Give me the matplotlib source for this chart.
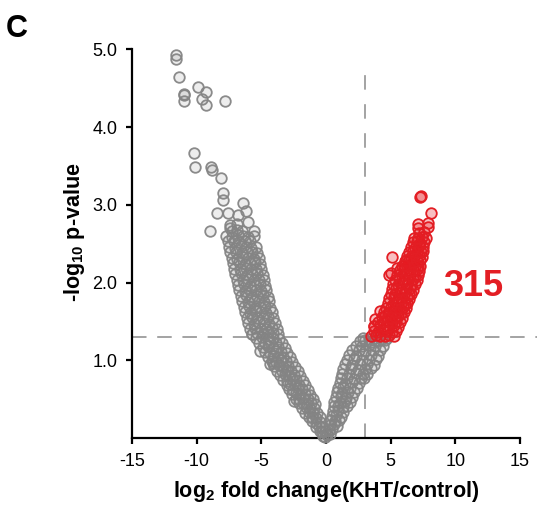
import matplotlib
matplotlib.use("Agg")
import matplotlib.pyplot as plt

plt.rcParams['font.family'] = ['Liberation Sans', 'DejaVu Sans']
plt.rcParams['mathtext.fontset'] = 'custom'
plt.rcParams['mathtext.rm'] = 'Liberation Sans:bold'
plt.rcParams['mathtext.it'] = 'Liberation Sans:bold'
plt.rcParams['mathtext.bf'] = 'Liberation Sans:bold'
plt.rcParams['mathtext.default'] = 'rm'

# ---------------- data ----------------
# left arm, not significant (gray)
left_x = [
    -0.25, -0.05, 0.1,
    -0.5, -0.3, -0.1,
    -0.8, -0.55, -0.3,
    -1.05, -0.8, -0.5,
    -1.35, -1.05, -0.75, -0.5,
    -1.6, -1.3, -1.0, -0.7,
    -1.85, -1.55, -1.25, -0.9,
    -2.1, -1.8, -1.5, -1.15, -0.85,
    -2.35, -2.05, -1.75, -1.4, -1.0,
    -2.6, -2.3, -2.0, -1.65, -1.2,
    -2.85, -2.55, -2.2, -1.85, -1.4,
    -3.05, -2.75, -2.4, -2.05, -1.6,
    -3.3, -3.0, -2.65, -2.3, -1.8,
    -3.55, -3.2, -2.85, -2.5, -2.0,
    -3.75, -3.4, -3.05, -2.7, -2.2,
    -4.0, -3.65, -3.3, -2.9, -2.4,
    -4.2, -3.85, -3.5, -3.1, -2.6,
    -4.45, -4.1, -3.7, -3.3, -2.8,
    -4.7, -4.3, -3.9, -3.5, -3.0,
    -4.9, -4.5, -4.1, -3.7, -3.2,
    -5.15, -4.7, -4.3, -3.9, -3.4,
    -5.4, -4.95, -4.5, -4.1, -3.6,
    -5.7, -5.3, -4.9, -4.5, -4.1, -3.7,
    -5.9, -5.5, -5.05, -4.6, -4.2, -3.8,
    -6.0, -5.6, -5.2, -4.8, -4.4, -3.95,
    -6.1, -5.7, -5.3, -4.9, -4.5, -4.1,
    -6.3, -5.9, -5.45, -5.0, -4.6, -4.2,
    -6.35, -5.95, -5.5, -5.1, -4.7, -4.3,
    -6.5, -6.05, -5.6, -5.2, -4.8, -4.4,
    -6.6, -6.15, -5.7, -5.3, -4.9, -4.5,
    -6.7, -6.25, -5.8, -5.4, -5.0, -4.6,
    -6.8, -6.35, -5.9, -5.5, -5.1, -4.7,
    -6.9, -6.45, -6.0, -5.6, -5.2, -4.8,
    -7.0, -6.55, -6.1, -5.7, -5.3, -4.9,
    -7.1, -6.65, -6.2, -5.8, -5.4, -5.0,
    -7.2, -6.75, -6.3, -5.9, -5.5, -5.1,
    -7.3, -6.85, -6.4, -6.0, -5.6, -5.2,
    -7.4, -6.95, -6.5, -6.1, -5.7, -5.3,
    -7.5, -7.05, -6.6, -6.2, -5.8, -5.4,
    -7.6, -7.15, -6.7, -6.3, -5.9,
    -7.7, -7.25, -6.8, -6.4, -6.0, -5.6,
    -7.3, -6.9, -6.5,
    -7.4, -6.9,
]
left_y = [
    0.03, 0.02, 0.04,
    0.10, 0.08, 0.09,
    0.15, 0.16, 0.14,
    0.22, 0.20, 0.21,
    0.27, 0.28, 0.26, 0.27,
    0.33, 0.34, 0.32, 0.33,
    0.39, 0.40, 0.38, 0.39,
    0.45, 0.46, 0.44, 0.45, 0.44,
    0.51, 0.50, 0.52, 0.51, 0.50,
    0.57, 0.58, 0.56, 0.57, 0.56,
    0.63, 0.62, 0.64, 0.63, 0.62,
    0.69, 0.70, 0.68, 0.69, 0.68,
    0.75, 0.74, 0.76, 0.75, 0.74,
    0.81, 0.82, 0.80, 0.81, 0.80,
    0.87, 0.86, 0.88, 0.87, 0.86,
    0.93, 0.94, 0.92, 0.93, 0.92,
    0.99, 0.98, 1.00, 0.99, 0.98,
    1.05, 1.06, 1.04, 1.05, 1.04,
    1.11, 1.10, 1.12, 1.11, 1.10,
    1.17, 1.18, 1.16, 1.17, 1.16,
    1.23, 1.22, 1.24, 1.23, 1.22,
    1.29, 1.30, 1.28, 1.29, 1.28,
    1.34, 1.35, 1.34, 1.36, 1.35, 1.34,
    1.41, 1.42, 1.40, 1.41, 1.42, 1.40,
    1.48, 1.47, 1.49, 1.48, 1.47, 1.48,
    1.55, 1.56, 1.54, 1.55, 1.56, 1.54,
    1.62, 1.61, 1.63, 1.62, 1.61, 1.62,
    1.69, 1.70, 1.68, 1.69, 1.70, 1.68,
    1.76, 1.75, 1.77, 1.76, 1.75, 1.76,
    1.83, 1.84, 1.82, 1.83, 1.84, 1.82,
    1.90, 1.89, 1.91, 1.90, 1.89, 1.90,
    1.97, 1.98, 1.96, 1.97, 1.98, 1.96,
    2.04, 2.03, 2.05, 2.04, 2.03, 2.04,
    2.11, 2.12, 2.10, 2.11, 2.12, 2.10,
    2.18, 2.17, 2.19, 2.18, 2.17, 2.18,
    2.25, 2.26, 2.24, 2.25, 2.26, 2.24,
    2.32, 2.31, 2.33, 2.32, 2.31, 2.32,
    2.39, 2.40, 2.38, 2.39, 2.40, 2.38,
    2.46, 2.45, 2.47, 2.46, 2.45, 2.46,
    2.53, 2.54, 2.52, 2.53, 2.54,
    2.60, 2.59, 2.61, 2.60, 2.59, 2.60,
    2.67, 2.68, 2.66,
    2.74, 2.75,
]

# scattered gray points outside the dense band
outlier_x = [-11.6, -11.6, -11.4, -11.0, -11.0, -11.0, -9.9, -9.3, -9.6, -9.3,
             -7.8, -10.2, -10.1, -8.9, -8.8, -8.1, -8.0, -8.0, -6.4, -6.2,
             -8.4, -7.6, -8.95, -6.8, -6.0, -7.4, -5.6, -5.1, -4.1, -2.5,
             -4.3, -5.7, -4.9]
outlier_y = [4.93, 4.88, 4.64, 4.43, 4.41, 4.33, 4.51, 4.45, 4.36, 4.28,
             4.33, 3.67, 3.49, 3.49, 3.45, 3.35, 3.15, 3.06, 3.02, 2.92,
             2.89, 2.89, 2.66, 2.87, 2.78, 2.70, 2.67, 1.12, 0.97, 0.48,
             0.96, 1.34, 1.34]

# right arm below the significance threshold (gray)
right_x = [
    0.1, 0.3,
    0.2, 0.45,
    0.3, 0.6, 0.85,
    0.4, 0.7, 1.0,
    0.45, 0.8, 1.15,
    0.55, 0.9, 1.3,
    0.6, 0.95, 1.3, 1.6,
    0.65, 1.05, 1.45, 1.85,
    0.75, 1.15, 1.55, 2.0,
    0.85, 1.25, 1.7, 2.2,
    0.95, 1.35, 1.85, 2.4,
    1.05, 1.5, 2.0, 2.55,
    1.15, 1.65, 2.15, 2.7, 2.95,
    1.25, 1.75, 2.3, 2.85, 3.2,
    1.35, 1.9, 2.45, 3.0, 3.45,
    1.45, 2.0, 2.6, 3.15, 3.7,
    1.6, 2.15, 2.75, 3.3, 3.85,
    1.8, 2.35, 2.9, 3.45, 4.05,
    2.0, 2.55, 3.05, 3.6, 4.2,
    2.3, 2.8, 3.3, 3.8, 4.4,
    2.6, 3.05, 3.5, 4.0, 4.6,
    2.9, 3.3, 3.8, 4.3, 4.7,
]
right_y = [
    0.05, 0.06,
    0.11, 0.12,
    0.17, 0.18, 0.16,
    0.23, 0.22, 0.24,
    0.29, 0.30, 0.28,
    0.35, 0.36, 0.34,
    0.41, 0.42, 0.40, 0.41,
    0.47, 0.46, 0.48, 0.47,
    0.53, 0.54, 0.52, 0.53,
    0.59, 0.58, 0.60, 0.59,
    0.65, 0.66, 0.64, 0.65,
    0.71, 0.70, 0.72, 0.71,
    0.77, 0.78, 0.76, 0.77, 0.78,
    0.83, 0.82, 0.84, 0.83, 0.82,
    0.89, 0.90, 0.88, 0.89, 0.90,
    0.95, 0.94, 0.96, 0.95, 0.94,
    1.01, 1.02, 1.00, 1.01, 1.02,
    1.07, 1.06, 1.08, 1.07, 1.06,
    1.13, 1.14, 1.12, 1.13, 1.14,
    1.19, 1.18, 1.20, 1.19, 1.18,
    1.25, 1.26, 1.24, 1.25, 1.26,
    1.29, 1.28, 1.29, 1.28, 1.29,
]

# significant, up-regulated (red)
red_x = [
    3.5, 3.85, 4.2, 4.55, 4.9, 5.25,
    3.7, 4.05, 4.4, 4.75, 5.1, 5.4,
    3.75, 4.2, 4.55, 4.9, 5.25, 5.55,
    4.0, 4.4, 4.75, 5.1, 5.45, 5.7,
    4.3, 4.6, 4.95, 5.3, 5.6, 5.85,
    4.5, 4.8, 5.15, 5.5, 5.8, 6.0,
    4.65, 5.0, 5.3, 5.65, 5.95, 6.15,
    4.8, 5.15, 5.45, 5.8, 6.1, 6.3,
    4.9, 5.25, 5.6, 5.9, 6.25, 6.45,
    5.0, 5.35, 5.7, 6.05, 6.4, 6.6,
    5.1, 5.45, 5.8, 6.15, 6.5, 6.75,
    5.2, 5.55, 5.9, 6.25, 6.6, 6.9,
    5.3, 5.65, 6.0, 6.35, 6.7, 7.0,
    5.5, 5.85, 6.2, 6.5, 6.85, 7.1,
    5.7, 6.05, 6.4, 6.7, 7.0, 7.2,
    5.9, 6.25, 6.55, 6.85, 7.15, 7.3,
    6.1, 6.45, 6.75, 7.0, 7.3,
    6.3, 6.6, 6.9, 7.2, 7.4,
    6.45, 6.75, 7.05, 7.35, 7.5,
    6.6, 6.9, 7.2, 7.5,
    6.7, 7.0, 7.3, 7.6,
    6.8, 7.1, 7.45, 7.7,
    7.2, 7.6,
    7.1, 7.9,
    7.15, 7.9,
    8.1,
    7.3, 7.35,
    5.1, 6.2, 6.0, 5.5, 5.0, 4.2, 3.8, 3.7, 4.85,
]
red_y = [
    1.32, 1.33, 1.31, 1.32, 1.33, 1.31,
    1.38, 1.37, 1.39, 1.38, 1.37, 1.38,
    1.44, 1.45, 1.43, 1.44, 1.45, 1.43,
    1.50, 1.49, 1.51, 1.50, 1.49, 1.50,
    1.56, 1.57, 1.55, 1.56, 1.57, 1.55,
    1.62, 1.61, 1.63, 1.62, 1.61, 1.62,
    1.68, 1.69, 1.67, 1.68, 1.69, 1.67,
    1.74, 1.73, 1.75, 1.74, 1.73, 1.74,
    1.80, 1.81, 1.79, 1.80, 1.81, 1.79,
    1.86, 1.85, 1.87, 1.86, 1.85, 1.86,
    1.92, 1.93, 1.91, 1.92, 1.93, 1.91,
    1.98, 1.97, 1.99, 1.98, 1.97, 1.98,
    2.04, 2.05, 2.03, 2.04, 2.05, 2.03,
    2.10, 2.09, 2.11, 2.10, 2.09, 2.10,
    2.16, 2.17, 2.15, 2.16, 2.17, 2.15,
    2.22, 2.21, 2.23, 2.22, 2.21, 2.22,
    2.28, 2.29, 2.27, 2.28, 2.29,
    2.34, 2.33, 2.35, 2.34, 2.33,
    2.40, 2.41, 2.39, 2.40, 2.41,
    2.46, 2.45, 2.47, 2.46,
    2.52, 2.53, 2.51, 2.52,
    2.58, 2.57, 2.59, 2.58,
    2.64, 2.65,
    2.70, 2.71,
    2.76, 2.77,
    2.89,
    3.10, 3.12,
    2.33, 2.29, 2.23, 2.19, 2.13, 1.63, 1.53, 1.44, 2.10,
]

n_significant = "315"
fc_threshold = 3.0
p_threshold = 1.3
x_ticks = [-15, -10, -5, 0, 5, 10, 15]
y_ticks = [1.0, 2.0, 3.0, 4.0, 5.0]

# ---------------- figure ----------------
fig = plt.figure(figsize=(5.37, 5.14), dpi=100)
ax = fig.add_axes([0.2458, 0.1473, 0.7225, 0.7568])

gray_face = (0.5, 0.5, 0.5, 0.14)
gray_edge = (0.52, 0.52, 0.52, 0.95)
red_face = (0.91, 0.10, 0.13, 0.28)
red_edge = '#e31e24'
msize = 58
mlw = 1.3

for xs, ys in [(left_x, left_y), (right_x, right_y), (outlier_x, outlier_y)]:
    ax.scatter(xs, ys, s=msize, facecolors=gray_face, edgecolors=gray_edge,
               linewidths=mlw, clip_on=False, zorder=3)
ax.scatter(red_x, red_y, s=msize, facecolors=red_face, edgecolors=red_edge,
           linewidths=mlw, clip_on=False, zorder=4)

# threshold lines
dash_col = '#8a8a8a'
hl, = ax.plot([-15, 16.5], [p_threshold, p_threshold], color=dash_col, lw=1.1,
              clip_on=False, zorder=2)
hl.set_dashes((9.5, 7.0))
vl, = ax.plot([fc_threshold, fc_threshold], [0, 4.82], color=dash_col, lw=1.1,
              clip_on=False, zorder=2)
vl.set_dashes((9.5, 9.5))

ax.text(9.1, 1.83, n_significant, color='#e31e24', fontsize=26,
        fontweight='bold', ha='left', va='baseline')

ax.set_xlim(-15, 15)
ax.set_ylim(0, 5.0)
ax.set_xticks(x_ticks)
ax.set_xticklabels([str(t) for t in x_ticks])
ax.set_yticks(y_ticks)
ax.set_yticklabels([f"{t:.1f}" for t in y_ticks])

for s in ['top', 'right']:
    ax.spines[s].set_visible(False)
for s in ['left', 'bottom']:
    ax.spines[s].set_linewidth(1.6)
    ax.spines[s].set_color('black')
ax.tick_params(axis='both', direction='out', length=4, width=1.6,
               labelsize=13, pad=6.5, color='black')

ax.set_xlabel(r'log$_2$ fold change(KHT/control)', fontsize=15.5,
              fontweight='bold')
ax.xaxis.set_label_coords(0.5, -0.105)
ax.set_ylabel(r'-log$_{10}$ p-value', fontsize=15.5, fontweight='bold')
ax.yaxis.set_label_coords(-0.115, 0.53)

fig.text(0.011, 0.928, 'C', fontsize=22, fontweight='bold',
         ha='left', va='baseline')

fig.savefig('out.png', dpi=100)
